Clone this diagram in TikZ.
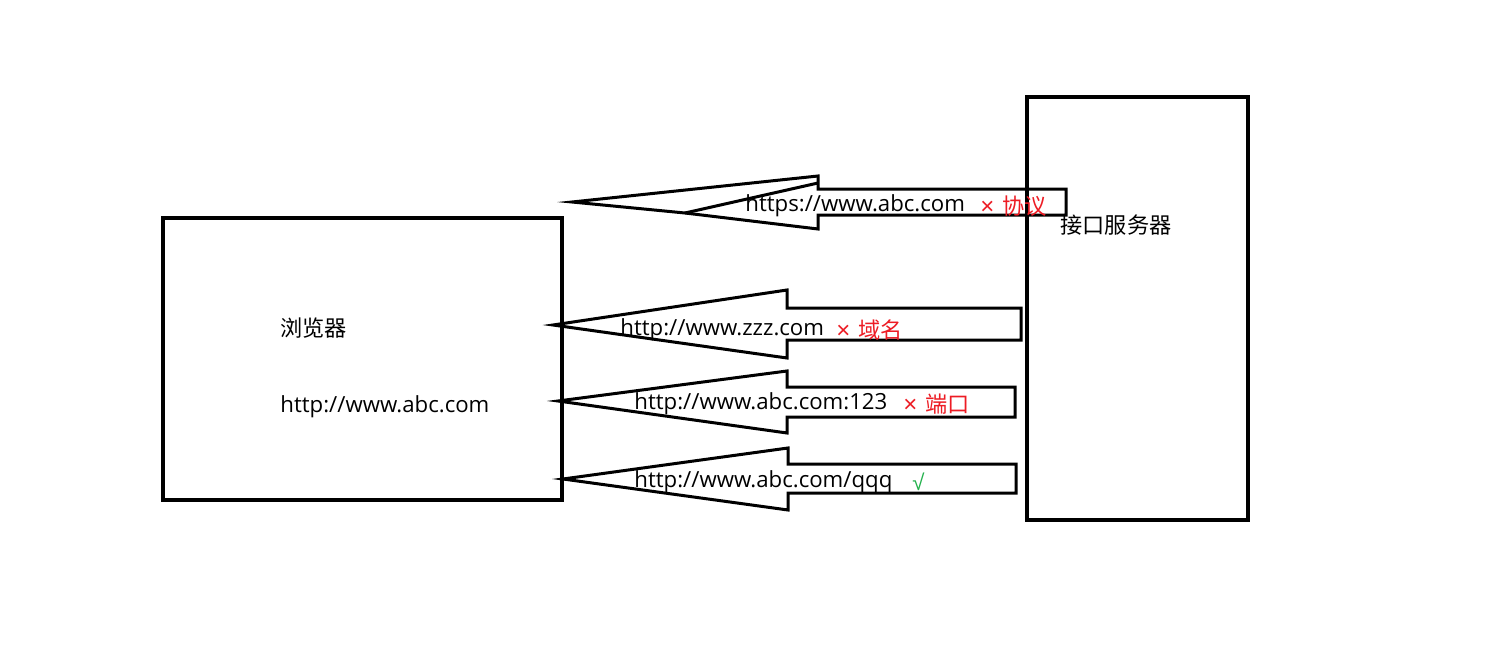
\documentclass[tikz,border=0pt]{standalone}
\usepackage{fontspec}
\setmainfont{Open Sans}
\newfontfamily\cjk{Noto Sans CJK SC}
\newfontfamily\symf{Liberation Sans}
\begin{document}
\begin{tikzpicture}[x=0.5pt,y=-0.5pt,
  box/.style={draw=black,line width=2.2pt},
  blockarrow/.style={draw=black,line width=1.5pt,line join=miter},
  lbl/.style={anchor=west,inner sep=0pt,font=\fontsize{11.1}{13}\selectfont},
  bad/.style={lbl,text={rgb,255:red,237;green,28;blue,36}},
  good/.style={lbl,text={rgb,255:red,34;green,177;blue,76}}]
\useasboundingbox (0,0) rectangle (1512,653);
\fill[white] (0,0) rectangle (1512,653);
% boxes
\draw[box] (163,218) rectangle (562,500);
\draw[box] (1027,97) rectangle (1248,520);
% arrows
\draw[blockarrow] (572,202) -- (818,176) -- (818,189) -- (1066,189) -- (1066,215) -- (818,215) -- (818,229) -- (685,213) -- cycle;
\draw[blockarrow] (685,213) -- (818,183);
\draw[blockarrow] (553,325) -- (787,290) -- (787,308) -- (1021,308) -- (1021,340) -- (787,340) -- (787,358) -- cycle;
\draw[blockarrow] (558,401) -- (787,371) -- (787,387) -- (1015,387) -- (1015,417) -- (787,417) -- (787,433) -- cycle;
\draw[blockarrow] (563,479) -- (788,448) -- (788,464) -- (1016,464) -- (1016,493) -- (788,493) -- (788,510) -- cycle;
% labels
\node[lbl] (t1) at (745,206) {https://www.abc.com};
\node[bad] (e1) at (980,206) {{\symf\large×}\hspace{0.35em}{\cjk 协议}};
\node[lbl] (srv) at (1060,225) {\cjk 接口服务器};
\node[lbl] (br) at (280,328) {\cjk 浏览器};
\node[lbl] (url) at (280,407) {http://www.abc.com};
\node[lbl] (t2) at (620,330) {http://www.zzz.com};
\node[bad] (e2) at (836,330) {{\symf\large×}\hspace{0.35em}{\cjk 域名}};
\node[lbl] (t3) at (634,404) {http://www.abc.com:123};
\node[bad] (e3) at (903,404) {{\symf\large×}\hspace{0.35em}{\cjk 端口}};
\node[lbl] (t4) at (634,482) {http://www.abc.com/qqq};
\node[good] (ok) at (912,482) {\symf √};
\end{tikzpicture}
\end{document}
